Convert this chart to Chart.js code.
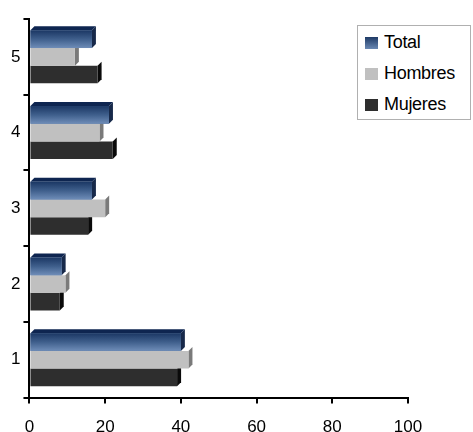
<!DOCTYPE html>
<html>
<head>
<meta charset="utf-8">
<script src="https://cdn.jsdelivr.net/npm/chart.js@4"></script>
<style>
  html, body { margin: 0; background: #fff; overflow: hidden; }
  #wrap { position: relative; width: 473px; height: 432px; overflow: hidden; }
  #legend {
    position: absolute; left: 357px; top: 25px; width: 114px; height: 95px;
    border: 1px solid #b0b0b0; box-sizing: border-box; background: #fff;
    font-family: "Liberation Sans", Arial, sans-serif; font-size: 18px; color: #000;
    padding-top: 1px;
  }
  #legend div { display: flex; align-items: center; height: 31px; padding-left: 7px; letter-spacing: -0.3px; }
  #legend span.sw { display: inline-block; width: 13px; height: 12px; margin-right: 6px; }
</style>
</head>
<body>
<div id="wrap">
  <canvas id="myChart" width="473" height="440"></canvas>
  <div id="legend"></div>
</div>
<script>
// categorias de arriba a abajo
const categorias = ['5', '4', '3', '2', '1'];
const total = [16.5, 21, 16.5, 8.5, 40];
const hombres = [12, 18.5, 20, 9.5, 42];
const mujeres = [18, 22, 15.5, 8, 39];
const ticksX = [0, 20, 40, 60, 80, 100];

const series = [
  { label: 'Total', data: total, color: '#4a6791', side: '#17294a', swatch: 'linear-gradient(#1f3a66,#6a88b3)' },
  { label: 'Hombres', data: hombres, color: '#c0c0c0', side: '#7a7a7a', swatch: '#c0c0c0' },
  { label: 'Mujeres', data: mujeres, color: '#2e2e2e', side: '#0a0a0a', swatch: '#2e2e2e' }
];

// efecto 3D: caras laterales + degradado de la serie Total
const depth3d = {
  id: 'depth3d',
  beforeDatasetsDraw(chart) {
    const ctx = chart.ctx;
    const d = 4;
    series.forEach((s, i) => {
      chart.getDatasetMeta(i).data.forEach(bar => {
        const top = bar.y - bar.height / 2, bottom = bar.y + bar.height / 2;
        ctx.save();
        ctx.fillStyle = s.side;
        ctx.beginPath();
        ctx.moveTo(bar.x, top);
        ctx.lineTo(bar.x + d, top - d);
        ctx.lineTo(bar.x + d, bottom - d);
        ctx.lineTo(bar.x, bottom);
        ctx.closePath();
        ctx.fill();
        if (i === 0) {
          ctx.fillStyle = '#0e2550';
          ctx.beginPath();
          ctx.moveTo(bar.base, top);
          ctx.lineTo(bar.base + d, top - d);
          ctx.lineTo(bar.x + d, top - d);
          ctx.lineTo(bar.x, top);
          ctx.closePath();
          ctx.fill();
        }
        ctx.restore();
      });
    });
  },
  afterDatasetDraw(chart, args) {
    if (args.index !== 0) return;
    const ctx = chart.ctx;
    args.meta.data.forEach(bar => {
      const top = bar.y - bar.height / 2, bottom = bar.y + bar.height / 2;
      const g = ctx.createLinearGradient(0, top, 0, bottom);
      g.addColorStop(0, '#1b3764');
      g.addColorStop(0.5, '#3f5f8c');
      g.addColorStop(1, '#6f8db8');
      ctx.save();
      ctx.fillStyle = g;
      ctx.fillRect(bar.base, top, bar.x - bar.base, bottom - top);
      ctx.restore();
    });
  }
};

const ctx = document.getElementById('myChart').getContext('2d');
const myChart = new Chart(ctx, {
  type: 'bar',
  data: {
    labels: categorias,
    datasets: series.map(s => ({
      label: s.label,
      data: s.data,
      backgroundColor: s.color,
      borderWidth: 0,
      barPercentage: 1.0,
      categoryPercentage: 0.7
    }))
  },
  options: {
    indexAxis: 'y',
    responsive: false,
    animation: false,
    layout: { padding: { top: 19, right: 65, left: 8, bottom: -12 } },
    plugins: { legend: { display: false }, tooltip: { enabled: false } },
    scales: {
      x: {
        min: 0, max: 100,
        afterBuildTicks(axis) { axis.ticks = ticksX.map(v => ({ value: v })); },
        grid: { display: true, drawOnChartArea: false, tickLength: 6, color: '#000', lineWidth: 2 },
        border: { color: '#000', width: 2 },
        ticks: { color: '#000', font: { family: 'Liberation Sans', size: 17 }, padding: 14 }
      },
      y: {
        grid: { display: true, drawOnChartArea: false, tickLength: 6, color: '#000', lineWidth: 2, offset: true },
        border: { color: '#000', width: 2 },
        ticks: { color: '#000', font: { family: 'Liberation Sans', size: 17 }, padding: 3 }
      }
    }
  },
  plugins: [depth3d]
});

// leyenda
const legend = document.getElementById('legend');
series.forEach(s => {
  const row = document.createElement('div');
  const sw = document.createElement('span');
  sw.className = 'sw';
  sw.style.background = s.swatch;
  row.appendChild(sw);
  row.appendChild(document.createTextNode(s.label));
  legend.appendChild(row);
});
</script>
</body>
</html>
